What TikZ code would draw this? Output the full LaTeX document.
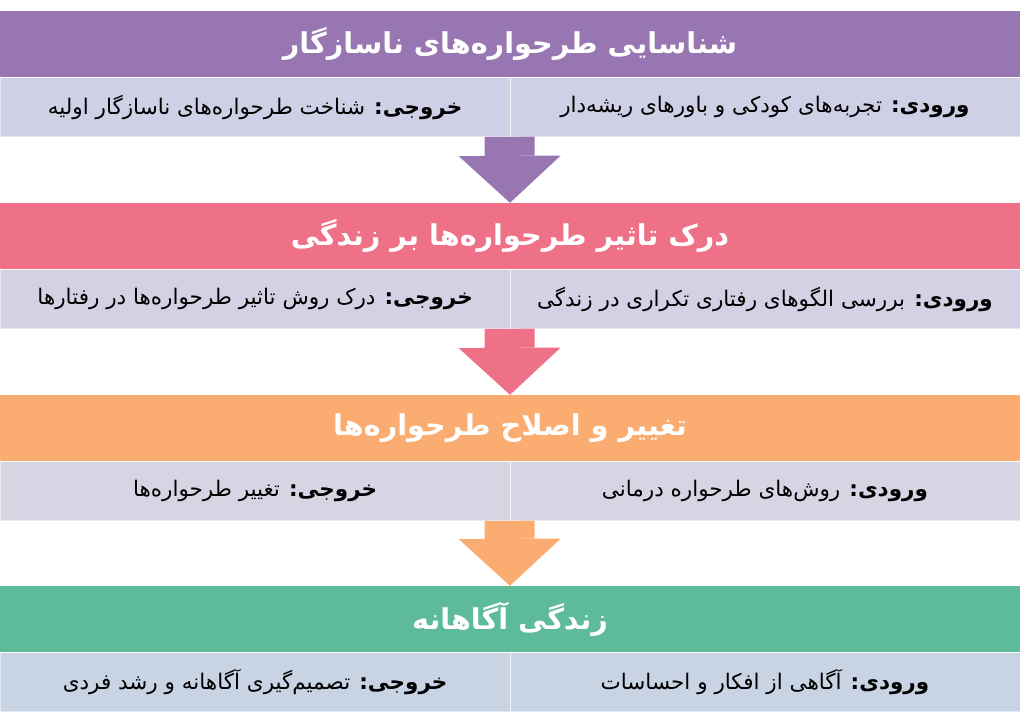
\documentclass[tikz,border=0pt]{standalone}
\usepackage{fontspec}
\newfontfamily\farsi[Script=Arabic]{DejaVu Sans}
\TeXXeTstate=1
\usetikzlibrary{arrows.meta}
\definecolor{stageA}{RGB}{152,118,178}
\definecolor{stageB}{RGB}{238,113,135}
\definecolor{stageC}{RGB}{251,172,112}
\definecolor{stageD}{RGB}{93,187,154}
\definecolor{cellA}{RGB}{207,207,230}
\definecolor{cellB}{RGB}{214,208,228}
\definecolor{cellC}{RGB}{215,213,227}
\definecolor{cellD}{RGB}{200,211,227}
\newcommand{\rtltext}[1]{\beginR #1\endR}
\tikzset{stage/.style={minimum width=1020pt, minimum height=66pt, inner sep=0pt,
           text=white, font=\farsi\bfseries\fontsize{28.7}{34}\selectfont},
         cell/.style={minimum width=510pt, minimum height=59pt, inner sep=0pt,
           draw=white, draw opacity=0.5, line width=0.6pt, font=\farsi\fontsize{21.5}{26}\selectfont},
         flow/.style={line width=50pt, -{Triangle[width=102pt,length=47pt,line width=0pt]}}}

\begin{document}
\begin{tikzpicture}[x=1pt, y=-1pt]
        \useasboundingbox (0,0) rectangle (1024,718);
        % stages
        \node[stage, fill=stageA] (h1) at (510,44) {\rtltext{شناسایی طرحواره‌های ناسازگار}};
        \node[stage, fill=stageB] (h2) at (510,236) {\rtltext{درک تاثیر طرحواره‌ها بر زندگی}};
        \node[stage, fill=stageC] (h3) at (510,428) {\rtltext{تغییر و اصلاح طرحواره‌ها}};
        \node[stage, fill=stageD] (h4) at (510,619) {\rtltext{زندگی آگاهانه}};
        % inputs and outputs
        \node[cell, fill=cellA, anchor=north east] (in1) at (h1.south east) {\rtltext{\textbf{ورودی:} تجربه‌های کودکی و باورهای ریشه‌دار}};
        \node[cell, fill=cellA, anchor=north west] (out1) at (h1.south west) {\rtltext{\textbf{خروجی:} شناخت طرحواره‌های ناسازگار اولیه}};
        \node[cell, fill=cellB, anchor=north east] (in2) at (h2.south east) {\rtltext{\textbf{ورودی:} بررسی الگوهای رفتاری تکراری در زندگی}};
        \node[cell, fill=cellB, anchor=north west] (out2) at (h2.south west) {\rtltext{\textbf{خروجی:} درک روش تاثیر طرحواره‌ها در رفتارها}};
        \node[cell, fill=cellC, anchor=north east] (in3) at (h3.south east) {\rtltext{\textbf{ورودی:} روش‌های طرحواره درمانی}};
        \node[cell, fill=cellC, anchor=north west] (out3) at (h3.south west) {\rtltext{\textbf{خروجی:} تغییر طرحواره‌ها}};
        \node[cell, fill=cellD, anchor=north east] (in4) at (h4.south east) {\rtltext{\textbf{ورودی:} آگاهی از افکار و احساسات}};
        \node[cell, fill=cellD, anchor=north west] (out4) at (h4.south west) {\rtltext{\textbf{خروجی:} تصمیم‌گیری آگاهانه و رشد فردی}};
        % arrows
        \draw[flow, stageA] (in1.south west) -- (h2.north);
        \draw[flow, stageB] (in2.south west) -- (h3.north);
        \draw[flow, stageC] (in3.south west) -- (h4.north);
\end{tikzpicture}
\end{document}
